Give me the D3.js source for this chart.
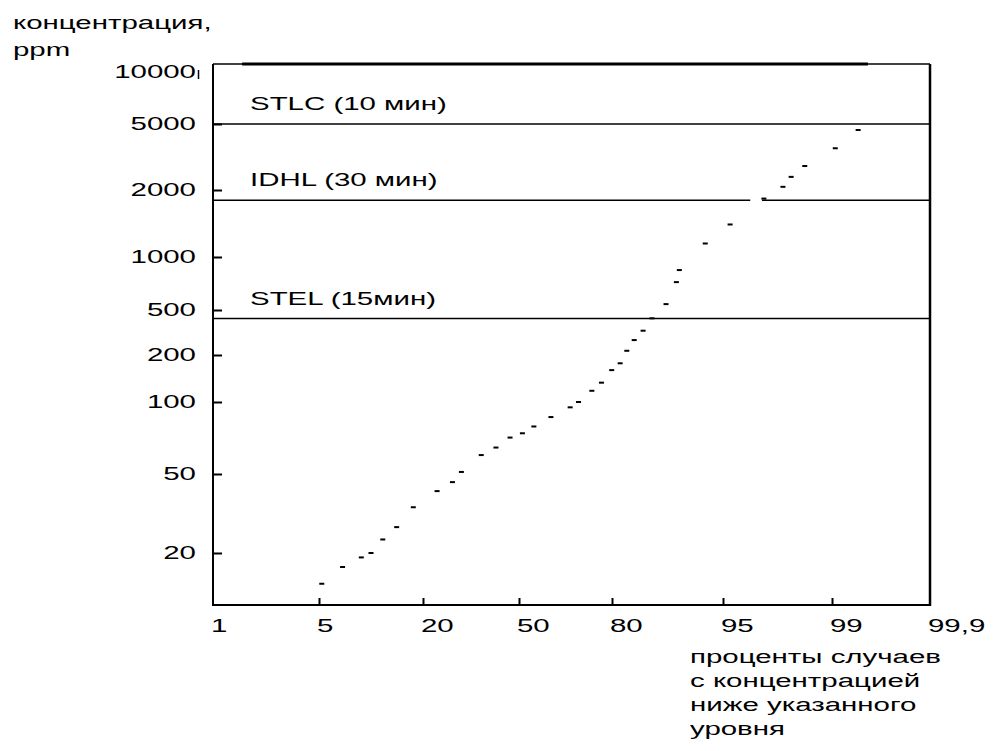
<!DOCTYPE html>
<html>
<head>
<meta charset="utf-8">
<script src="https://cdn.jsdelivr.net/npm/d3@7"></script>
<style>
    body { margin: 0; background: #fff; }
    text { font-family: "Liberation Sans", Arial, sans-serif; fill: #000; }
</style>
</head>
<body>
<div id="chart"></div>
<script>
// ---- data ----
const yTicks = [20, 50, 100, 200, 500, 1000, 2000, 5000, 10000];
const yTickLabels = ["20", "50", "100", "200", "500", "1000", "2000", "5000", "10000"];
const xTicks = [1, 5, 20, 50, 80, 95, 99, 99.9];
const xTickLabels = ["1", "5", "20", "50", "80", "95", "99", "99,9"];

// cumulative percent of cases vs concentration, ppm
const percent = [5.4, 8.4, 11.1, 12.5, 14.2, 16.2, 18.6, 24.4, 29.2, 32.0, 38.2, 42.8, 47.2,
    51.1, 54.8, 60.3, 66.5, 69.2, 73.5, 76.6, 79.9, 81.1, 82.0, 83.0, 84.2, 85.4, 87.3,
    88.7, 89.1, 92.6, 95.26, 96.5, 97.2, 97.5, 98.0, 99.03, 99.24];
const ppm = [14, 17, 19, 20, 23.4, 27, 34, 41, 45.5, 51, 60, 64.5, 71,
    74, 79, 86.5, 95, 100, 118, 133, 160, 177, 218, 271, 328, 422, 540,
    720, 843, 1150, 1400, 1830, 2090, 2400, 2790, 3570, 4600];

const limitNames = ["STLC (10 мин)", "IDHL (30 мин)", "STEL (15мин)"];
const limitValues = [5000, 1800, 420];
const idhlGap = [96.0, 96.43];
const topBand = [2.1, 99.33];   // heavy line drawn at 10000 ppm

const yTitle = ["концентрация,", "ppm"];
const xTitle = ["проценты случаев", "с концентрацией", "ниже указанного", "уровня"];

// ---- layout ----
const W = 993, H = 751;
const frame = {left: 213, right: 930, top: 64, bottom: 605};
const yTickPos = [553, 474, 402, 355, 310, 257, 190, 124, 64];
const xTickPos = [213, 319, 423, 519, 612, 723, 832, 930];
const fontSize = 19, stretch = 1.55;

const svg = d3.select("#chart").append("svg")
    .attr("width", W)
    .attr("height", H);

const x = d3.scaleLinear().domain(xTicks).range(xTickPos);
const y = d3.scaleLog().domain(yTicks).range(yTickPos);

function label(x0, y0, str, anchor) {
    svg.append("text")
        .attr("transform", `translate(${x0},${y0}) scale(${stretch},1)`)
        .attr("text-anchor", anchor || "start")
        .style("font-size", fontSize + "px")
        .text(str);
}

// frame
svg.append("line").attr("x1", frame.left).attr("x2", frame.right)
    .attr("y1", frame.top).attr("y2", frame.top)
    .attr("stroke", "#000").attr("stroke-width", 1.5);
svg.append("line").attr("x1", frame.left).attr("x2", frame.right)
    .attr("y1", frame.bottom).attr("y2", frame.bottom)
    .attr("stroke", "#000").attr("stroke-width", 2);
svg.append("line").attr("x1", frame.left).attr("x2", frame.left)
    .attr("y1", frame.top).attr("y2", frame.bottom + 1)
    .attr("stroke", "#000").attr("stroke-width", 2);
svg.append("line").attr("x1", frame.right).attr("x2", frame.right)
    .attr("y1", frame.top).attr("y2", frame.bottom + 1)
    .attr("stroke", "#000").attr("stroke-width", 2.5);

// heavy line at the top
svg.append("line")
    .attr("x1", x(topBand[0])).attr("x2", x(topBand[1]))
    .attr("y1", y(10000)).attr("y2", y(10000))
    .attr("stroke", "#000").attr("stroke-width", 3);

// y ticks (inward)
svg.append("g")
    .attr("transform", `translate(${frame.left},0)`)
    .call(d3.axisLeft(y).tickValues(yTicks.slice(0, -1)).tickSize(-9).tickFormat(""))
    .call(g => g.select(".domain").remove())
    .call(g => g.selectAll("line").attr("stroke-width", 2));

// x ticks (upward)
svg.append("g")
    .attr("transform", `translate(0,${frame.bottom})`)
    .call(d3.axisBottom(x).tickValues(xTicks.slice(1, -1)).tickSize(-7).tickFormat(""))
    .call(g => g.select(".domain").remove())
    .call(g => g.selectAll("line").attr("stroke-width", 2));

// y labels
yTicks.forEach((v, i) => {
    label(196, Math.max(y(v), frame.top + 8) + 6, yTickLabels[i], "end");
});
svg.append("line").attr("x1", 198.5).attr("x2", 198.5)
    .attr("y1", 70).attr("y2", 79)
    .attr("stroke", "#000").attr("stroke-width", 1.5);

// x labels
xTicks.forEach((v, i) => {
    label(x(v) - 2, 632, xTickLabels[i], "start");
});

// limit lines
limitValues.forEach((v, i) => {
    let segs = [[xTicks[0], xTicks[xTicks.length - 1]]];
    if (limitNames[i].startsWith("IDHL")) {
        segs = [[xTicks[0], idhlGap[0]], [idhlGap[1], xTicks[xTicks.length - 1]]];
    }
    segs.forEach(s => {
        svg.append("line")
            .attr("x1", x(s[0])).attr("x2", x(s[1]))
            .attr("y1", y(v)).attr("y2", y(v))
            .attr("stroke", "#000").attr("stroke-width", 1.5);
    });
    label(250, y(v) - 14, limitNames[i], "start");
});

// data points
svg.append("g").selectAll("rect")
    .data(percent.map((p, i) => ({p: p, c: ppm[i]})))
    .enter().append("rect")
    .attr("x", d => x(d.p) - 2.5)
    .attr("y", d => y(d.c) - 1)
    .attr("width", 5)
    .attr("height", 2)
    .attr("fill", "#000");

// axis titles
yTitle.forEach((t, i) => label(13, 29 + i * 27, t, "start"));
xTitle.forEach((t, i) => label(690, 663 + i * 24, t, "start"));
</script>
</body>
</html>
